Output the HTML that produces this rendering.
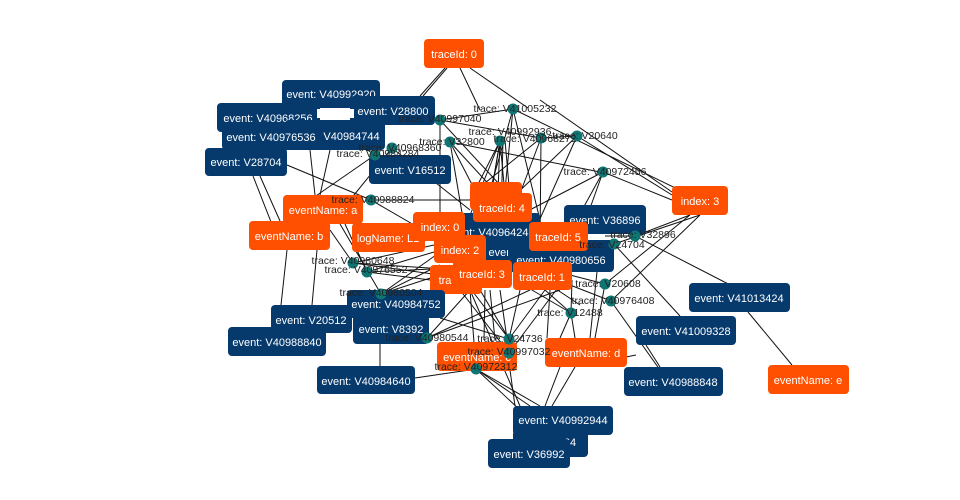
<!DOCTYPE html>
<html><head><meta charset="utf-8"><style>
html,body{margin:0;padding:0;background:#fff;}
svg{display:block;}
.b{fill:#063a6d;}
.o{fill:#fe5000;}
.t{fill:#fff;font-family:"Liberation Sans",sans-serif;font-size:11px;text-anchor:middle;}
.l{fill:#222;font-family:"Liberation Sans",sans-serif;font-size:10.5px;text-anchor:middle;}
.d{fill:#0e7573;}
line{stroke:#111;stroke-width:1;}
</style></head><body>
<svg width="960" height="500" viewBox="0 0 960 500" xmlns="http://www.w3.org/2000/svg">
<g>
<!-- edges -->
<line x1="445" y1="68" x2="420" y2="96"/><line x1="447" y1="68" x2="423" y2="96"/>
<line x1="460" y1="68" x2="480" y2="110"/><line x1="470" y1="68" x2="528" y2="108"/>
<line x1="513" y1="109" x2="490" y2="190"/><line x1="513" y1="109" x2="505" y2="190"/><line x1="513" y1="109" x2="700" y2="200"/><line x1="513" y1="109" x2="540" y2="220"/>
<line x1="440" y1="120" x2="440" y2="215"/><line x1="440" y1="120" x2="500" y2="185"/><line x1="440" y1="120" x2="513" y2="109"/><line x1="440" y1="120" x2="541" y2="138"/>
<line x1="450" y1="142" x2="480" y2="200"/><line x1="450" y1="142" x2="470" y2="260"/><line x1="450" y1="142" x2="540" y2="240"/><line x1="450" y1="142" x2="600" y2="172"/>
<line x1="500" y1="141" x2="470" y2="200"/><line x1="500" y1="141" x2="460" y2="240"/><line x1="500" y1="141" x2="480" y2="260"/><line x1="500" y1="141" x2="495" y2="265"/><line x1="500" y1="141" x2="505" y2="195"/><line x1="500" y1="141" x2="485" y2="230"/>
<line x1="505" y1="140" x2="515" y2="255"/><line x1="503" y1="140" x2="500" y2="260"/>
<line x1="541" y1="138" x2="510" y2="220"/><line x1="541" y1="138" x2="540" y2="245"/><line x1="541" y1="138" x2="470" y2="195"/><line x1="541" y1="138" x2="577" y2="136"/>
<line x1="577" y1="136" x2="535" y2="230"/><line x1="577" y1="136" x2="510" y2="200"/><line x1="577" y1="136" x2="672" y2="195"/><line x1="540" y1="100" x2="672" y2="192"/>
<line x1="603" y1="172" x2="560" y2="250"/><line x1="603" y1="172" x2="575" y2="250"/><line x1="603" y1="172" x2="672" y2="200"/><line x1="603" y1="172" x2="520" y2="215"/>
<line x1="392" y1="148" x2="350" y2="200"/><line x1="392" y1="148" x2="470" y2="210"/><line x1="375" y1="155" x2="330" y2="125"/><line x1="375" y1="155" x2="310" y2="200"/>
<line x1="371" y1="200" x2="470" y2="200"/><line x1="371" y1="200" x2="440" y2="240"/><line x1="371" y1="200" x2="287" y2="165"/>
<line x1="260" y1="176" x2="280" y2="221"/><line x1="253" y1="176" x2="282" y2="250"/><line x1="310" y1="150" x2="315" y2="195"/><line x1="330" y1="150" x2="320" y2="195"/>
<line x1="287" y1="250" x2="281" y2="305"/><line x1="317" y1="250" x2="312" y2="305"/>
<line x1="330" y1="230" x2="353" y2="263"/><line x1="340" y1="224" x2="381" y2="294"/><line x1="345" y1="224" x2="367" y2="272"/>
<line x1="353" y1="263" x2="434" y2="245"/><line x1="353" y1="263" x2="440" y2="275"/><line x1="353" y1="263" x2="460" y2="270"/><line x1="367" y1="272" x2="434" y2="252"/><line x1="367" y1="272" x2="470" y2="285"/><line x1="367" y1="272" x2="516" y2="265"/>
<line x1="381" y1="294" x2="436" y2="255"/><line x1="381" y1="294" x2="440" y2="265"/><line x1="381" y1="294" x2="455" y2="270"/>
<line x1="427" y1="338" x2="470" y2="290"/><line x1="427" y1="338" x2="530" y2="290"/><line x1="427" y1="338" x2="560" y2="290"/>
<line x1="440" y1="318" x2="509" y2="339"/><line x1="380" y1="344" x2="380" y2="366"/><line x1="415" y1="378" x2="476" y2="369"/>
<line x1="509" y1="339" x2="480" y2="290"/><line x1="509" y1="339" x2="470" y2="288"/><line x1="509" y1="339" x2="520" y2="290"/><line x1="509" y1="339" x2="545" y2="290"/>
<line x1="509" y1="353" x2="460" y2="290"/><line x1="509" y1="353" x2="560" y2="285"/><line x1="509" y1="353" x2="500" y2="290"/>
<line x1="476" y1="369" x2="540" y2="406"/><line x1="476" y1="369" x2="530" y2="406"/><line x1="476" y1="369" x2="520" y2="410"/><line x1="476" y1="369" x2="470" y2="290"/>
<line x1="510" y1="370" x2="515" y2="406"/><line x1="490" y1="290" x2="495" y2="340"/><line x1="485" y1="290" x2="484" y2="340"/>
<line x1="571" y1="313" x2="545" y2="290"/><line x1="571" y1="313" x2="560" y2="338"/><line x1="571" y1="313" x2="515" y2="280"/><line x1="571" y1="313" x2="575" y2="338"/><line x1="571" y1="313" x2="572" y2="280"/>
<line x1="605" y1="284" x2="570" y2="275"/><line x1="605" y1="284" x2="690" y2="215"/><line x1="605" y1="284" x2="595" y2="338"/>
<line x1="611" y1="301" x2="570" y2="285"/><line x1="611" y1="301" x2="700" y2="215"/><line x1="611" y1="301" x2="660" y2="370"/>
<line x1="635" y1="236" x2="740" y2="290"/><line x1="635" y1="236" x2="690" y2="215"/><line x1="605" y1="236" x2="635" y2="236"/>
<line x1="614" y1="244" x2="680" y2="316"/><line x1="614" y1="244" x2="700" y2="215"/><line x1="590" y1="245" x2="614" y2="244"/>
<line x1="748" y1="312" x2="792" y2="365"/><line x1="646" y1="345" x2="660" y2="367"/><line x1="626" y1="357" x2="636" y2="355"/>
<line x1="560" y1="367" x2="545" y2="406"/><line x1="575" y1="367" x2="552" y2="406"/><line x1="550" y1="290" x2="547" y2="338"/><line x1="597" y1="272" x2="590" y2="338"/>
<line x1="520" y1="265" x2="580" y2="305"/><line x1="470" y1="290" x2="520" y2="406"/>
</g>
<!-- boxes -->
<rect class="o" x="424" y="39" width="60" height="29" rx="4"/><text class="t" x="454" y="58">traceId: 0</text>
<rect class="b" x="217" y="103" width="103" height="29" rx="4"/><text class="t" x="268" y="122">event: V40968256</text>
<rect class="b" x="282" y="80" width="98" height="28" rx="4"/><text class="t" x="331" y="98">event: V40992920</text>
<rect class="b" x="350" y="96" width="85" height="29" rx="4"/><text class="t" x="393" y="115">event: V28800</text>
<rect fill="#fff" x="317" y="109" width="37" height="9"/>
<rect class="b" x="285" y="120" width="100" height="30" rx="4"/><text class="t" x="335" y="140">event: V40984744</text>
<rect class="b" x="222" y="122" width="98" height="28" rx="4"/><text class="t" x="271" y="141">event: V40976536</text>
<rect class="b" x="205" y="148" width="82" height="28" rx="4"/><text class="t" x="246" y="166">event: V28704</text>
<rect class="b" x="369" y="155" width="82" height="29" rx="4"/><text class="t" x="410" y="174">event: V16512</text>
<rect class="b" x="440" y="213" width="100" height="40" rx="4"/><text class="t" x="490" y="236">event: V40964248</text>
<rect class="b" x="470" y="240" width="60" height="25" rx="4"/><text class="t" x="505" y="256">even...</text>
<rect class="b" x="564" y="205" width="82" height="29" rx="4"/><text class="t" x="605" y="224">event: V36896</text>
<rect class="b" x="508" y="240" width="106" height="32" rx="4"/><text class="t" x="561" y="264">event: V40980656</text>
<rect class="o" x="283" y="195" width="80" height="29" rx="4"/><text class="t" x="323" y="214">eventName: a</text>
<rect class="o" x="249" y="221" width="81" height="29" rx="4"/><text class="t" x="289" y="240">eventName: b</text>
<rect class="o" x="352" y="223" width="73" height="29" rx="4"/><text class="t" x="388" y="242">logName: L1</text>
<rect class="o" x="470" y="182" width="52" height="28" rx="4"/>
<rect class="o" x="473" y="193" width="59" height="29" rx="4"/><text class="t" x="502" y="212">traceId: 4</text>
<rect class="o" x="413" y="212" width="52" height="29" rx="4"/><text class="t" x="440" y="231">index: 0</text>
<rect class="o" x="529" y="222" width="59" height="29" rx="4"/><text class="t" x="558" y="241">traceId: 5</text>
<rect class="o" x="434" y="235" width="52" height="28" rx="4"/><text class="t" x="460" y="254">index: 2</text>
<rect class="o" x="430" y="265" width="52" height="29" rx="4"/><text class="t" x="445" y="284">tra</text>
<rect class="o" x="453" y="260" width="59" height="28" rx="4"/><text class="t" x="482" y="278">traceId: 3</text>
<rect class="o" x="513" y="262" width="59" height="28" rx="4"/><text class="t" x="542" y="281">traceId: 1</text>
<rect class="o" x="672" y="186" width="56" height="29" rx="4"/><text class="t" x="700" y="205">index: 3</text>
<rect class="b" x="689" y="283" width="101" height="29" rx="4"/><text class="t" x="739" y="302">event: V41013424</text>
<rect class="b" x="636" y="316" width="100" height="29" rx="4"/><text class="t" x="686" y="335">event: V41009328</text>
<rect class="b" x="271" y="305" width="81" height="28" rx="4"/><text class="t" x="311" y="324">event: V20512</text>
<rect class="b" x="228" y="327" width="98" height="29" rx="4"/><text class="t" x="277" y="346">event: V40988840</text>
<rect class="b" x="347" y="290" width="98" height="28" rx="4"/><text class="t" x="396" y="308">event: V40984752</text>
<rect class="b" x="353" y="315" width="76" height="29" rx="4"/><text class="t" x="391" y="333">event: V8392</text>
<rect class="b" x="317" y="366" width="98" height="28" rx="4"/><text class="t" x="366" y="385">event: V40984640</text>
<rect class="o" x="437" y="342" width="80" height="29" rx="4"/><text class="t" x="477" y="361">eventName: c</text>
<rect class="o" x="545" y="338" width="82" height="29" rx="4"/><text class="t" x="586" y="357">eventName: d</text>
<rect class="b" x="624" y="367" width="99" height="29" rx="4"/><text class="t" x="673" y="386">event: V40988848</text>
<rect class="o" x="768" y="365" width="81" height="29" rx="4"/><text class="t" x="808" y="384">eventName: e</text>
<rect class="b" x="513" y="430" width="75" height="27" rx="4"/><text class="t" x="570" y="446">64</text>
<rect class="b" x="513" y="406" width="100" height="29" rx="4"/><text class="t" x="563" y="424">event: V40992944</text>
<rect class="b" x="488" y="439" width="82" height="29" rx="4"/><text class="t" x="529" y="458">event: V36992</text>
<!-- trace dots -->
<g>
<circle class="d" cx="513" cy="109" r="5.5"/><circle class="d" cx="440" cy="120" r="5.5"/><circle class="d" cx="450" cy="142" r="5.5"/>
<circle class="d" cx="500" cy="141" r="5.5"/><circle class="d" cx="541" cy="138" r="5.5"/><circle class="d" cx="577" cy="136" r="5.5"/>
<circle class="d" cx="392" cy="148" r="5.5"/><circle class="d" cx="375" cy="155" r="5.5"/><circle class="d" cx="603" cy="172" r="5.5"/>
<circle class="d" cx="371" cy="200" r="5.5"/><circle class="d" cx="635" cy="236" r="5.5"/><circle class="d" cx="614" cy="244" r="5.5"/>
<circle class="d" cx="353" cy="263" r="5.5"/><circle class="d" cx="367" cy="272" r="5.5"/><circle class="d" cx="381" cy="294" r="5.5"/>
<circle class="d" cx="605" cy="284" r="5.5"/><circle class="d" cx="611" cy="301" r="5.5"/><circle class="d" cx="571" cy="313" r="5.5"/>
<circle class="d" cx="427" cy="338" r="5.5"/><circle class="d" cx="509" cy="339" r="5.5"/><circle class="d" cx="509" cy="353" r="5.5"/><circle class="d" cx="476" cy="369" r="5.5"/>
</g>
<g class="lab">
<text class="l" x="515" y="112">trace: V41005232</text>
<text class="l" x="440" y="122">trace: V40997040</text>
<text class="l" x="452" y="145">trace: V32800</text>
<text class="l" x="510" y="135">trace: V40992936</text>
<text class="l" x="535" y="142">trace: V40968272</text>
<text class="l" x="585" y="139">trace: V20640</text>
<text class="l" x="400" y="151">trace: V40968360</text>
<text class="l" x="378" y="157">trace: V40984284</text>
<text class="l" x="605" y="175">trace: V40972456</text>
<text class="l" x="373" y="203">trace: V40988824</text>
<text class="l" x="643" y="238">trace: V32896</text>
<text class="l" x="612" y="248">trace: V24704</text>
<text class="l" x="353" y="264">trace: V40980648</text>
<text class="l" x="366" y="273">trace: V40976552</text>
<text class="l" x="381" y="296">trace: V40980504</text>
<text class="l" x="608" y="287">trace: V20608</text>
<text class="l" x="613" y="304">trace: V40976408</text>
<text class="l" x="570" y="316">trace: V12488</text>
<text class="l" x="427" y="341">trace: V40980544</text>
<text class="l" x="510" y="342">trace: V24736</text>
<text class="l" x="509" y="355">trace: V40997032</text>
<text class="l" x="476" y="370">trace: V40972312</text>
</g>
</svg>
</body></html>
